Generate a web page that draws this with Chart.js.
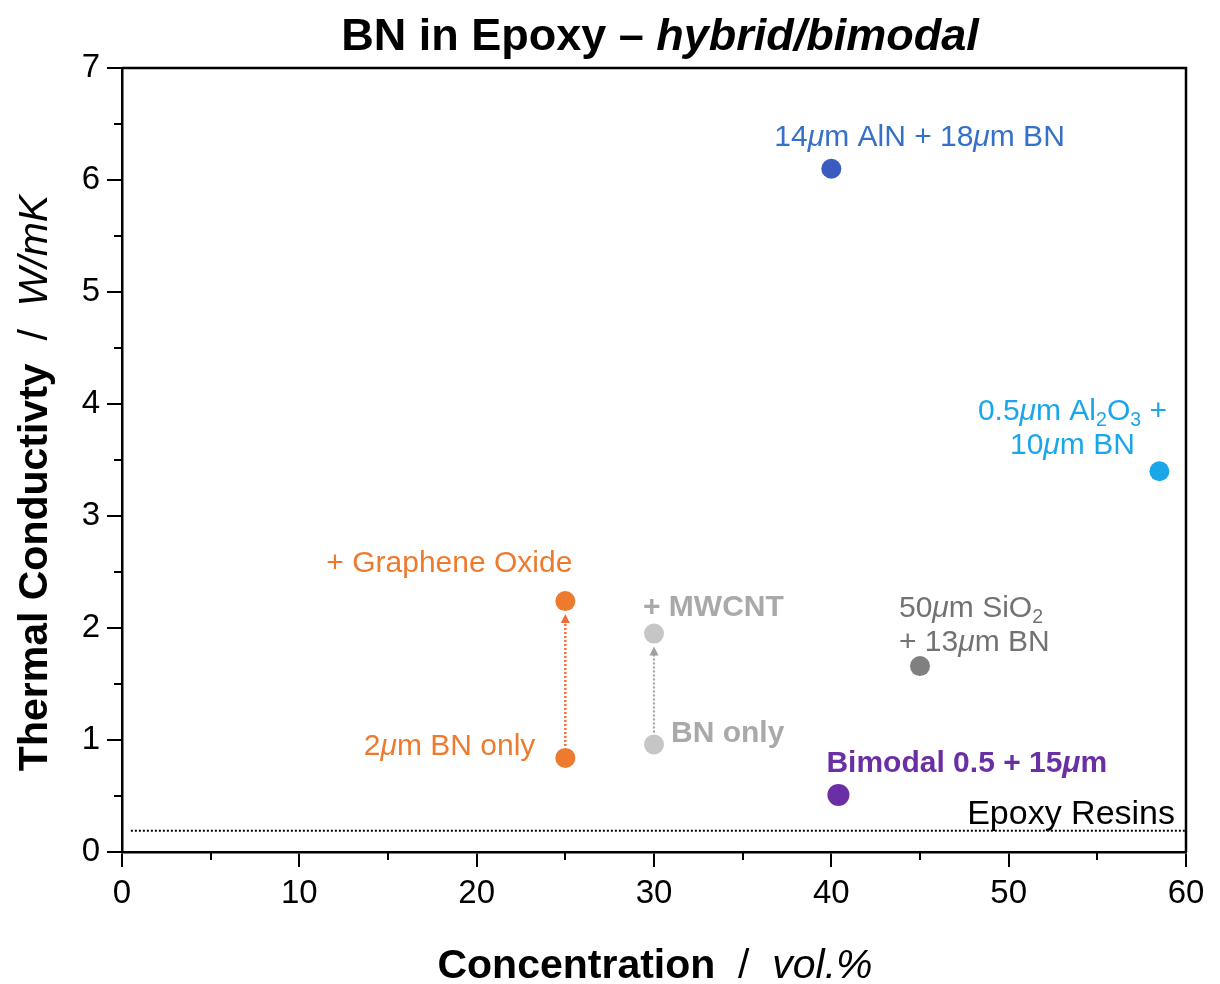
<!DOCTYPE html>
<html>
<head>
<meta charset="utf-8">
<script src="https://cdn.jsdelivr.net/npm/chart.js@4/dist/chart.umd.min.js"></script>
<style>
html,body{margin:0;padding:0;background:#fff;}
#wrap{width:1220px;height:984px;}
</style>
</head>
<body>
<div id="wrap"><canvas id="bnChart" width="1220" height="984"></canvas></div>
<script>

/* ---------- DATA ---------- */

const concentration = [40, 58.5, 25, 25, 30, 30, 45, 40.4];
const conductivity = [6.1, 3.4, 2.24, 0.84, 1.95, 0.96, 1.66, 0.51];
const sampleNames = [
"14μm AlN + 18μm BN",
"0.5μm Al2O3 + 10μm BN",
"+ Graphene Oxide",
"2μm BN only",
"+ MWCNT",
"BN only",
"50μm SiO2 + 13μm BN",
"Bimodal 0.5 + 15μm"
];
const epoxyX = [0.5, 60];
const epoxyY = [0.19, 0.19];
const xTickLabels = [0, 10, 20, 30, 40, 50, 60];
const yTickLabels = [0, 1, 2, 3, 4, 5, 6, 7];
// pairs of point indexes joined by an arrow (from -> to)
const arrowPairs = [[3, 2], [5, 4]];


/* ---------- STYLE ---------- */

const pointColors = ["#3a5bbf","#1ba6ea","#ee7a2e","#ee7a2e","#c6c6c6","#c6c6c6","#808080","#6a2fa5"];
const arrowColors = ["#f06c36","#a0a0a0"];
const FONT = "'Liberation Sans', Arial, sans-serif";
const MAJOR_TICK = 15;
const MINOR_TICK = 8;

// label rich-text pieces: [text, style] style: "", "i", "b", "bi", "sub"
const labelDefs = [
{pt:0, color:"#3570c9", size:30, align:"left", dx:-57, lines:[{dy:-23, segs:[["14",""],["μ","i"],["m AlN + 18",""],["μ","i"],["m BN",""]]}]},
{pt:1, color:"#1ba6ea", size:30, align:"center", dx:-87, lines:[
  {dy:-51, segs:[["0.5",""],["μ","i"],["m Al",""],["2","sub"],["O",""],["3","sub"],[" +",""]]},
  {dy:-17, segs:[["10",""],["μ","i"],["m BN",""]]}]},
{pt:2, color:"#ee7a2e", size:30, align:"right", dx:7, lines:[{dy:-29, segs:[["+ Graphene Oxide",""]]}]},
{pt:3, color:"#ee7a2e", size:30, align:"right", dx:-30, lines:[{dy:-3, segs:[["2",""],["μ","i"],["m BN only",""]]}]},
{pt:4, color:"#a9a9a9", size:30, align:"left", dx:-11, lines:[{dy:-18, segs:[["+ MWCNT","b"]]}]},
{pt:5, color:"#a9a9a9", size:30, align:"left", dx:17, lines:[{dy:-2, segs:[["BN only","b"]]}]},
{pt:6, color:"#727272", size:30, align:"left", dx:-21, lines:[
  {dy:-49, segs:[["50",""],["μ","i"],["m SiO",""],["2","sub"]]},
  {dy:-15, segs:[["+ 13",""],["μ","i"],["m BN",""]]}]},
{pt:7, color:"#6a2fa5", size:30, align:"left", dx:-12, lines:[{dy:-23, segs:[["Bimodal 0.5 + 15","b"],["μ","bi"],["m","b"]]}]}
];


/* ---------- RICH TEXT HELPER ---------- */

function segFont(style,size){
if(style==="sub") return (size*0.65)+"px "+FONT
let f=""
if(style.indexOf("i")>=0) f+="italic "
if(style.indexOf("b")>=0) f+="bold "
return f+size+"px "+FONT
}

function drawRich(ctx,segs,x,y,align,size,color){
ctx.save()
ctx.fillStyle=color
ctx.textBaseline="alphabetic"
ctx.textAlign="left"
let total=0
segs.forEach(s=>{ctx.font=segFont(s[1],size); total+=ctx.measureText(s[0]).width})
let cx=x
if(align==="center") cx=x-total/2
if(align==="right") cx=x-total
segs.forEach(s=>{
ctx.font=segFont(s[1],size)
let yy=y
if(s[1]==="sub") yy=y+size*0.2
ctx.fillText(s[0],cx,yy)
cx+=ctx.measureText(s[0]).width
})
ctx.restore()
}

const isMajor=(v,list)=>list.includes(v)


/* ---------- ANNOTATION PLUGIN ---------- */

const annotations = {
id:"annotations",
beforeDatasetsDraw(chart){
const ctx=chart.ctx
const xs=chart.scales.x, ys=chart.scales.y
// dotted arrows
arrowPairs.forEach((p,k)=>{
const x=xs.getPixelForValue(concentration[p[0]])
const y1=ys.getPixelForValue(conductivity[p[0]])-12
const y2=ys.getPixelForValue(conductivity[p[1]])+13
ctx.save()
ctx.strokeStyle=arrowColors[k]
ctx.fillStyle=arrowColors[k]
ctx.lineWidth=k===0?2.5:2
ctx.setLineDash([2,2])
ctx.beginPath()
ctx.moveTo(x,y1)
ctx.lineTo(x,y2+7)
ctx.stroke()
ctx.setLineDash([])
ctx.beginPath()
ctx.moveTo(x,y2)
ctx.lineTo(x-4.5,y2+9)
ctx.lineTo(x+4.5,y2+9)
ctx.closePath()
ctx.fill()
ctx.restore()
})
},
afterDraw(chart){
const ctx=chart.ctx
const a=chart.chartArea
const xs=chart.scales.x, ys=chart.scales.y

// box + minor ticks
ctx.save()
ctx.strokeStyle="#000"
ctx.lineWidth=2.5
ctx.beginPath()
ctx.moveTo(a.left,a.top)
ctx.lineTo(a.right,a.top)
ctx.lineTo(a.right,a.bottom)
ctx.stroke()
ctx.lineWidth=2
ctx.beginPath()
ys.ticks.forEach(t=>{
if(isMajor(t.value,yTickLabels)) return
const y=Math.round(ys.getPixelForValue(t.value))
ctx.moveTo(a.left-MINOR_TICK,y)
ctx.lineTo(a.left,y)
})
xs.ticks.forEach(t=>{
if(isMajor(t.value,xTickLabels)) return
const x=Math.round(xs.getPixelForValue(t.value))
ctx.moveTo(x,a.bottom)
ctx.lineTo(x,a.bottom+MINOR_TICK)
})
ctx.stroke()
ctx.restore()

// point labels
labelDefs.forEach(d=>{
const px=xs.getPixelForValue(concentration[d.pt])
const py=ys.getPixelForValue(conductivity[d.pt])
d.lines.forEach(l=>drawRich(ctx,l.segs,px+d.dx,py+l.dy,d.align,d.size,d.color))
})

// epoxy label
drawRich(ctx,[["Epoxy Resins",""]],a.right-11,ys.getPixelForValue(epoxyY[0])-7,"right",34,"#000")

// title
drawRich(ctx,[["BN in Epoxy – ","b"],["hybrid/bimodal","bi"]],660,50,"center",45,"#000")

// x title
drawRich(ctx,[["Concentration","b"],["  /  ",""],["vol.%","i"]],655,978,"center",41,"#000")

// y title
ctx.save()
ctx.translate(47,483)
ctx.rotate(-Math.PI/2)
drawRich(ctx,[["Thermal Conductivty","b"],["  /  ",""],["W/mK","i"]],0,0,"center",41,"#000")
ctx.restore()
}
}


/* ---------- CHART ---------- */

const ctx = document.getElementById("bnChart").getContext("2d")

const tickStyle = list => ({
drawOnChartArea:false,
drawTicks:true,
tickLength:MAJOR_TICK,
lineWidth:2,
color:"#000",
tickColor:c=>c.tick && isMajor(c.tick.value,list)?"#000":"rgba(0,0,0,0)"
})

new Chart(ctx,{
type:"scatter",
data:{
datasets:[
{
label:"Samples",
data:concentration.map((c,i)=>({x:c,y:conductivity[i]})),
pointBackgroundColor:pointColors,
pointBorderWidth:0,
pointRadius:[10,10,10,10,10,10,10,11],
pointHoverRadius:10
},
{
type:"line",
label:"Epoxy Resins",
data:epoxyX.map((x,i)=>({x:x,y:epoxyY[i]})),
borderColor:"#000",
borderWidth:2,
borderDash:[2,2],
pointRadius:0,
fill:false
}
]
},
options:{
responsive:false,
animation:false,
events:[],
layout:{padding:{top:68,right:34,left:0,bottom:0}},
plugins:{
legend:{display:false},
tooltip:{enabled:false},
title:{display:false}
},
scales:{
x:{
type:"linear",
min:0,
max:60,
afterFit:s=>{s.height=132},
border:{color:"#000",width:2.5},
grid:tickStyle(xTickLabels),
ticks:{
stepSize:5,
autoSkip:false,
maxRotation:0,
padding:7,
color:"#000",
font:{family:FONT,size:33},
callback:v=>isMajor(v,xTickLabels)?String(v):""
}
},
y:{
type:"linear",
min:0,
max:7,
afterFit:s=>{s.width=122},
border:{color:"#000",width:2.5},
grid:tickStyle(yTickLabels),
ticks:{
stepSize:0.5,
autoSkip:false,
padding:7,
color:"#000",
font:{family:FONT,size:33},
callback:v=>isMajor(v,yTickLabels)?String(v):""
}
}
}
},
plugins:[annotations]
})

</script>
</body>
</html>
